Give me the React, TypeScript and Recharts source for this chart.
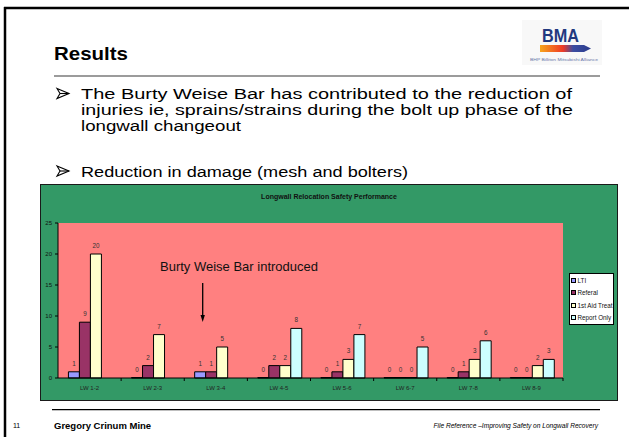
import { BarChart, Bar, XAxis, YAxis, CartesianGrid, Legend, LabelList } from 'recharts'

const CATEGORIES = ['LW 1-2', 'LW 2-3', 'LW 3-4', 'LW 4-5', 'LW 5-6', 'LW 6-7', 'LW 7-8', 'LW 8-9']
const LTI = [1, 0, 1, 0, 0, 0, 0, 0]
const REFERAL = [9, 2, 1, 2, 1, 0, 1, 0]
const FIRST_AID = [20, 7, 5, 2, 3, 0, 3, 2]
const REPORT_ONLY = [null, null, null, 8, 7, 5, 6, 3]
const Y_TICKS = [0, 5, 10, 15, 20, 25]

const SERIES = [
  { key: 'lti', name: 'LTI', color: '#9999FF' },
  { key: 'referal', name: 'Referal', color: '#993366' },
  { key: 'firstAid', name: '1st Aid Treat', color: '#FFFFCC' },
  { key: 'reportOnly', name: 'Report Only', color: '#CCFFFF' },
]

const data = CATEGORIES.map((name, i) => ({
  name,
  lti: LTI[i],
  referal: REFERAL[i],
  firstAid: FIRST_AID[i],
  reportOnly: REPORT_ONLY[i],
}))

const FONT = 'Arial, "Liberation Sans", sans-serif'
const BOX = { left: 41, top: 185, width: 576, height: 215 }
const MARGIN = { top: 38, right: 54, bottom: 0, left: 0 }
const Y_W = 17
const X_H = 22
const BAND = (BOX.width - MARGIN.left - MARGIN.right - Y_W) / CATEGORIES.length

// category label in the middle, tick mark on the boundary to the right
function XTick(props: any) {
  const { x, y, payload } = props
  return (
    <g>
      <line x1={x + BAND / 2} x2={x + BAND / 2} y1={y - 8} y2={y - 5} stroke="#000" />
      <text x={x} y={y} dy="0.71em" textAnchor="middle" fontSize={6} fill="#222" fontFamily={FONT}>
        {payload.value}
      </text>
    </g>
  )
}

// value above each bar, zeros included
function BarLabel(props: any) {
  const { x, y, width, value } = props
  if (value === null || value === undefined) return null
  return (
    <text x={x + width / 2} y={y - 6} textAnchor="middle" fontSize={6.3} fill="#333" fontFamily={FONT}>
      {String(value)}
    </text>
  )
}

function LegendBox() {
  return (
    <div
      style={{
        width: 45,
        height: 52,
        boxSizing: 'border-box',
        background: '#fff',
        border: '1px solid #000',
        fontFamily: FONT,
        fontSize: 6.3,
        color: '#111',
        overflow: 'hidden',
        whiteSpace: 'nowrap',
        paddingLeft: 1,
      }}
    >
      {SERIES.map((s) => (
        <div key={s.key} style={{ display: 'flex', alignItems: 'center', height: 12.5 }}>
          <span
            style={{
              width: 3,
              height: 3,
              border: '0.8px solid #000',
              background: s.color,
              marginRight: 1.5,
              flex: 'none',
            }}
          />
          {s.name}
        </div>
      ))}
    </div>
  )
}

// slide text is stretched sideways in the source, so each line gets its measured width
const BULLET_LINES = [
  { t: 'The Burty Weise Bar has contributed to the reduction of', y: 99, w: 491 },
  { t: 'injuries ie, sprains/strains during the bolt up phase of the', y: 115, w: 492 },
  { t: 'longwall changeout', y: 131, w: 160 },
  { t: 'Reduction in damage (mesh and bolters)', y: 176.5, w: 327 },
]

export default function App() {
  return (
    <div style={{ position: 'absolute', left: 0, top: 0, width: 629, height: 437, background: '#fff', overflow: 'hidden', fontFamily: FONT }}>
      {/* slide furniture */}
      <svg width={629} height={437} style={{ position: 'absolute', left: 0, top: 0 }}>
        <defs>
          <linearGradient id="bmaBand" x1="0" x2="1" y1="0" y2="0">
            <stop offset="0" stopColor="#F8A51B" />
            <stop offset="0.45" stopColor="#EE3A26" />
            <stop offset="0.65" stopColor="#3B4EA2" />
            <stop offset="1" stopColor="#2C3C8C" />
          </linearGradient>
        </defs>
        <line x1={4} x2={629} y1={8} y2={8} stroke="#000" strokeWidth={2.5} />
        <line x1={5} x2={5} y1={7} y2={437} stroke="#000" strokeWidth={2.5} />

        <text x={54} y={60} fontSize={18.6} fontWeight="bold" fill="#000" transform="translate(54 60) scale(1.1 1) translate(-54 -60)">
          Results
        </text>
        <line x1={54} x2={600} y1={76} y2={76} stroke="#7a7a7a" strokeWidth={1.5} />

        <rect x={522} y={20} width={80} height={45} fill="#f8f8f8" />
        <text x={542} y={42} fontSize={19} fontWeight="bold" fill="#22397F" fontFamily='"Liberation Sans Narrow", Arial, sans-serif' textLength={37} lengthAdjust="spacingAndGlyphs">
          BMA
        </text>
        <polygon points="540,45 584,45 591,48.5 584,52 540,52" fill="url(#bmaBand)" />
        <text x={530} y={61} fontSize={3.5} fill="#6a78aa" textLength={68} lengthAdjust="spacingAndGlyphs">
          BHP Billiton Mitsubishi Alliance
        </text>

        {[93.5, 171].map((cy) => (
          <g key={cy} stroke="#000" strokeWidth={1.1} fill="none">
            <path d={`M57 ${cy - 5} L69 ${cy} L57 ${cy + 5} L60 ${cy} Z`} />
            <line x1={60} x2={69} y1={cy} y2={cy} />
          </g>
        ))}
        {BULLET_LINES.map((l) => (
          <text key={l.t} x={81} y={l.y} fontSize={15.5} fill="#000" textLength={l.w} lengthAdjust="spacingAndGlyphs">
            {l.t}
          </text>
        ))}

        <line x1={52} x2={600} y1={409.7} y2={409.7} stroke="#000" strokeWidth={1.2} />
        <text x={13} y={428} fontSize={7} fill="#000">11</text>
        <text x={54} y={428.5} fontSize={9.5} fontWeight="bold" fill="#000">Gregory Crinum Mine</text>
        <text x={598} y={427.5} fontSize={6.6} fontStyle="italic" fill="#000" textAnchor="end">
          File Reference –Improving Safety on Longwall Recovery
        </text>
      </svg>

      {/* chart */}
      <div
        style={{
          position: 'absolute',
          left: BOX.left,
          top: BOX.top,
          width: BOX.width,
          height: BOX.height,
          background: '#339966',
          outline: '1.5px solid #1a1a1a',
        }}
      >
        <BarChart
          width={BOX.width}
          height={BOX.height}
          data={data}
          margin={MARGIN}
          barCategoryGap="16.5%"
          barGap={0}
        >
          <CartesianGrid fill="#FF8080" horizontal={false} vertical={false} />
          <XAxis
            dataKey="name"
            height={X_H}
            interval={0}
            tickLine={false}
            tickSize={3}
            tickMargin={5}
            axisLine={{ stroke: '#000' }}
            tick={<XTick />}
          />
          <YAxis
            width={Y_W}
            domain={[0, 25]}
            ticks={Y_TICKS}
            interval={0}
            tickSize={3}
            tickMargin={3}
            axisLine={{ stroke: '#000' }}
            tickLine={{ stroke: '#000' }}
            tick={{ fontSize: 6, fill: '#111', fontFamily: FONT }}
          />
          <Legend
            layout="vertical"
            align="center"
            verticalAlign="middle"
            wrapperStyle={{ left: 528, top: 88, width: 45 }}
            content={() => <LegendBox />}
          />
          {SERIES.map((s) => (
            <Bar
              key={s.key}
              dataKey={s.key}
              name={s.name}
              fill={s.color}
              stroke="#000"
              strokeWidth={1}
              minPointSize={0.4}
              isAnimationActive={false}
            >
              <LabelList dataKey={s.key} content={<BarLabel />} />
            </Bar>
          ))}
        </BarChart>
      </div>

      {/* chart title and annotation */}
      <svg width={629} height={437} style={{ position: 'absolute', left: 0, top: 0, pointerEvents: 'none' }}>
        <text x={329} y={198.5} fontSize={7} fontWeight="bold" textAnchor="middle" fill="#111">
          Longwall Relocation Safety Performance
        </text>
        <text x={160} y={271} fontSize={13} fill="#111">
          Burty Weise Bar introduced
        </text>
        <line x1={202.7} x2={202.7} y1={283} y2={316} stroke="#000" strokeWidth={1.3} />
        <polygon points="200.5,315 204.9,315 202.7,322" fill="#000" />
      </svg>
    </div>
  )
}
